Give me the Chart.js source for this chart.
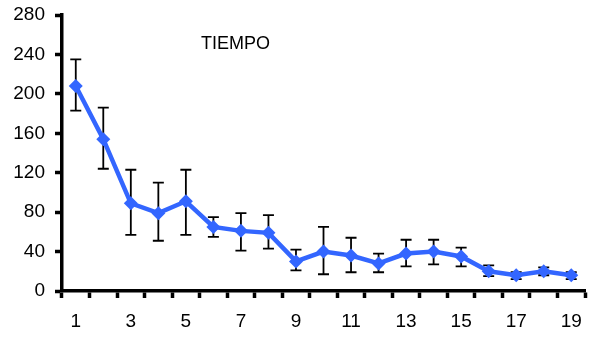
<!DOCTYPE html>
<html>
<head>
  <title>TIEMPO</title>
  <script src="https://cdn.jsdelivr.net/npm/chart.js"></script>
</head>
<body style="margin:0;background:#fff;">
  <div style="width:594px;height:337px;">
    <canvas id="chart" width="594" height="337"></canvas>
  </div>

  <script>
    const labels = ["1","2","3","4","5","6","7","8","9","10","11","12","13","14","15","16","17","18","19"];
    const tiempo = [208, 154, 89, 79, 91, 65, 61, 59, 30, 40, 36, 28, 38, 40, 35, 20, 16, 20, 16];
    const errHigh = [235, 186, 123, 110, 123, 75, 79, 77, 42, 65, 54, 38, 52, 52, 44, 26, 19, 24, 19];
    const errLow = [183, 124, 57, 51, 57, 55, 41, 43, 21, 17, 19, 19, 25, 27, 25, 15, 12, 16, 12];
    const yTicks = [0, 40, 80, 120, 160, 200, 240, 280];

    const errorBars = {
      id: "errorBars",
      beforeDatasetsDraw(chart) {
        const ctx = chart.ctx;
        const x = chart.scales.x, y = chart.scales.y;
        ctx.save();
        ctx.strokeStyle = "#000";
        ctx.lineWidth = 1.8;
        for (let i = 0; i < labels.length; i++) {
          const px = x.getPixelForValue(i);
          const top = y.getPixelForValue(errHigh[i]);
          const bot = y.getPixelForValue(errLow[i]);
          ctx.beginPath();
          ctx.moveTo(px, top); ctx.lineTo(px, bot);
          ctx.moveTo(px - 5.5, top); ctx.lineTo(px + 5.5, top);
          ctx.moveTo(px - 5.5, bot); ctx.lineTo(px + 5.5, bot);
          ctx.stroke();
        }
        ctx.restore();
      }
    };

    const titleText = {
      id: "titleText",
      afterDraw(chart) {
        const ctx = chart.ctx;
        ctx.save();
        ctx.fillStyle = "#000";
        ctx.font = "18px 'Liberation Sans', Arial, sans-serif";
        ctx.textBaseline = "alphabetic";
        ctx.fillText("TIEMPO", 201, 49);
        ctx.restore();
      }
    };

    const ctx = document.getElementById("chart").getContext("2d");
    new Chart(ctx, {
      type: "line",
      data: {
        labels: labels,
        datasets: [{
          label: "TIEMPO",
          data: tiempo,
          borderColor: "#3366ff",
          backgroundColor: "#3366ff",
          borderWidth: 4.5,
          pointStyle: "rectRot",
          pointRadius: 7,
          pointBorderWidth: 0,
          fill: false,
          tension: 0
        }]
      },
      options: {
        responsive: false,
        animation: false,
        layout: { padding: { left: 0, right: 1, top: 15, bottom: 0 } },
        plugins: { legend: { display: false }, tooltip: { enabled: false } },
        scales: {
          x: {
            offset: true,
            afterFit: (s) => { s.height = 46; },
            grid: { offset: true, drawOnChartArea: false, drawTicks: true, tickLength: 7, tickWidth: 3.5, tickColor: "#000" },
            border: { display: true, width: 3.5, color: "#000" },
            ticks: {
              autoSkip: false, maxRotation: 0, padding: 12, color: "#000",
              font: { family: "'Liberation Sans', Arial, sans-serif", size: 19 },
              callback: (v, i) => (i % 2 === 0 ? labels[i] : "")
            }
          },
          y: {
            min: 0, max: 280,
            afterFit: (s) => { s.width = 62; s.paddingTop = 0; s.paddingBottom = 0; },
            afterBuildTicks: (s) => { s.ticks = yTicks.map(v => ({ value: v })); },
            grid: { drawOnChartArea: false, drawTicks: true, tickLength: 7, tickWidth: 3.5, tickColor: "#000" },
            border: { display: true, width: 3.5, color: "#000" },
            ticks: {
              padding: 10, color: "#000",
              font: { family: "'Liberation Sans', Arial, sans-serif", size: 19, lineHeight: 0.5 }
            }
          }
        }
      },
      plugins: [errorBars, titleText]
    });
  </script>
</body>
</html>
